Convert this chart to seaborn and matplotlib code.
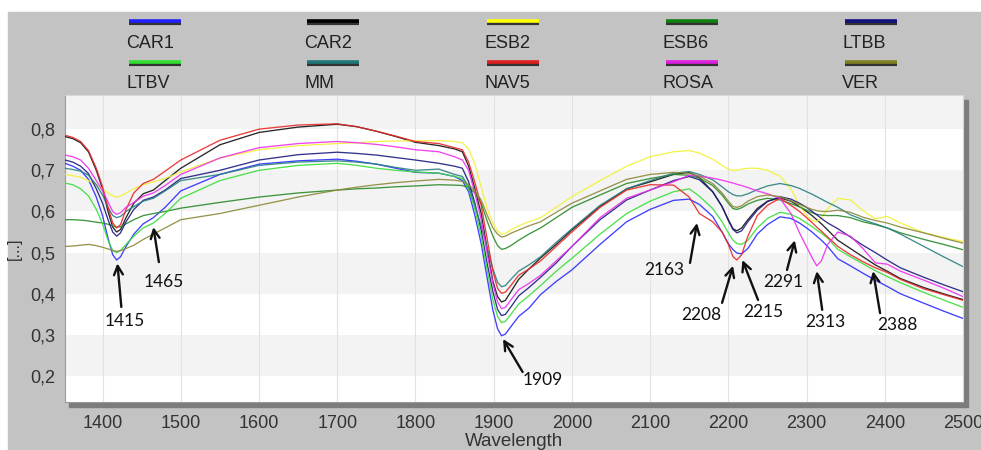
import matplotlib
matplotlib.use("Agg")
import matplotlib.pyplot as plt
from matplotlib.lines import Line2D
from matplotlib.patches import Rectangle
from matplotlib.ticker import FuncFormatter, MultipleLocator
from matplotlib import font_manager
import seaborn as sns
import pandas as pd

# ---------------- data ----------------
wavelength = [1352, 1362, 1372, 1382, 1392, 1400, 1407, 1413, 1418, 1423, 1430, 1440, 1452, 1465, 1480, 1500,
              1550, 1600, 1650, 1700, 1725, 1750, 1775, 1800, 1830, 1850,
              1860, 1868, 1876, 1884, 1892, 1899, 1905, 1910, 1915, 1922, 1932, 1945, 1960, 1980, 2000,
              2036, 2070, 2100, 2130,
              2150, 2163, 2180, 2192, 2200, 2206, 2211, 2217, 2225, 2237, 2250, 2266, 2280, 2291,
              2300, 2307, 2313, 2319, 2327, 2340, 2356, 2372, 2388, 2403, 2420, 2450, 2475, 2500]

CAR1 = [0.717, 0.71, 0.70, 0.678, 0.635, 0.59, 0.535, 0.495, 0.482, 0.49, 0.515, 0.545, 0.57, 0.585, 0.61, 0.65,
        0.69, 0.715, 0.723, 0.727, 0.722, 0.715, 0.705, 0.695, 0.693, 0.685,
        0.675, 0.648, 0.59, 0.522, 0.435, 0.36, 0.315, 0.298, 0.302, 0.32, 0.345, 0.365, 0.398, 0.43, 0.458,
        0.52, 0.575, 0.605, 0.627,
        0.63, 0.617, 0.588, 0.55, 0.522, 0.507, 0.499, 0.497, 0.51, 0.545, 0.568, 0.587, 0.583, 0.572,
        0.56, 0.55, 0.54, 0.53, 0.515, 0.485, 0.468, 0.45, 0.433, 0.418, 0.40, 0.377, 0.358, 0.34]
CAR2 = [0.782, 0.777, 0.767, 0.745, 0.70, 0.655, 0.60, 0.562, 0.55, 0.556, 0.585, 0.62, 0.643, 0.652, 0.675, 0.705,
        0.762, 0.792, 0.805, 0.812, 0.806, 0.795, 0.782, 0.768, 0.76, 0.752,
        0.745, 0.71, 0.655, 0.595, 0.505, 0.43, 0.393, 0.38, 0.384, 0.405, 0.435, 0.46, 0.487, 0.52, 0.555,
        0.612, 0.655, 0.672, 0.69,
        0.695, 0.682, 0.648, 0.612, 0.58, 0.558, 0.553, 0.56, 0.58, 0.607, 0.625, 0.633, 0.625, 0.612,
        0.60, 0.59, 0.58, 0.57, 0.555, 0.53, 0.51, 0.49, 0.47, 0.455, 0.437, 0.415, 0.40, 0.386]
ESB2 = [0.69, 0.687, 0.683, 0.675, 0.665, 0.655, 0.645, 0.638, 0.635, 0.637, 0.645, 0.655, 0.665, 0.672, 0.68, 0.696,
        0.73, 0.75, 0.76, 0.765, 0.767, 0.77, 0.771, 0.772, 0.772, 0.77,
        0.767, 0.752, 0.715, 0.66, 0.605, 0.572, 0.553, 0.545, 0.547, 0.555, 0.565, 0.575, 0.585, 0.61, 0.636,
        0.675, 0.71, 0.733, 0.745,
        0.748, 0.742, 0.727, 0.712, 0.703, 0.70, 0.70, 0.703, 0.705, 0.705, 0.70, 0.686, 0.655, 0.615,
        0.59, 0.578, 0.575, 0.585, 0.607, 0.632, 0.628, 0.602, 0.582, 0.588, 0.572, 0.548, 0.537, 0.527]
ESB6 = [0.58, 0.58, 0.579, 0.577, 0.574, 0.572, 0.569, 0.565, 0.562, 0.563, 0.57, 0.58, 0.59, 0.595, 0.60, 0.608,
        0.622, 0.635, 0.645, 0.652, 0.655, 0.657, 0.66, 0.662, 0.665, 0.664,
        0.663, 0.658, 0.645, 0.62, 0.575, 0.54, 0.517, 0.508, 0.51, 0.517, 0.53, 0.545, 0.56, 0.585, 0.61,
        0.64, 0.668, 0.68, 0.69,
        0.688, 0.681, 0.663, 0.64, 0.62, 0.607, 0.605, 0.609, 0.618, 0.627, 0.632, 0.628, 0.619, 0.611,
        0.603, 0.597, 0.593, 0.591, 0.59, 0.59, 0.585, 0.575, 0.568, 0.56, 0.548, 0.532, 0.52, 0.507]
LTBB = [0.725, 0.72, 0.71, 0.692, 0.655, 0.62, 0.58, 0.55, 0.54, 0.548, 0.575, 0.605, 0.627, 0.635, 0.652, 0.68,
        0.70, 0.725, 0.738, 0.744, 0.741, 0.737, 0.731, 0.725, 0.717, 0.71,
        0.705, 0.672, 0.62, 0.555, 0.47, 0.405, 0.362, 0.347, 0.35, 0.368, 0.395, 0.415, 0.44, 0.475, 0.515,
        0.58, 0.628, 0.652, 0.675,
        0.685, 0.677, 0.648, 0.612, 0.578, 0.556, 0.548, 0.553, 0.575, 0.603, 0.624, 0.636, 0.63, 0.62,
        0.61, 0.60, 0.592, 0.583, 0.572, 0.558, 0.538, 0.518, 0.50, 0.482, 0.463, 0.44, 0.422, 0.405]
LTBV = [0.669, 0.665, 0.655, 0.638, 0.605, 0.57, 0.53, 0.505, 0.50, 0.505, 0.52, 0.54, 0.56, 0.572, 0.595, 0.632,
        0.675, 0.70, 0.712, 0.717, 0.712, 0.705, 0.70, 0.696, 0.693, 0.685,
        0.68, 0.655, 0.605, 0.54, 0.455, 0.385, 0.345, 0.33, 0.333, 0.35, 0.375, 0.395, 0.42, 0.455, 0.486,
        0.545, 0.595, 0.625, 0.648,
        0.655, 0.637, 0.607, 0.575, 0.548, 0.53, 0.522, 0.52, 0.53, 0.56, 0.583, 0.598, 0.593, 0.583,
        0.572, 0.563, 0.555, 0.547, 0.535, 0.508, 0.49, 0.473, 0.456, 0.442, 0.427, 0.403, 0.385, 0.367]
MM = [0.705, 0.702, 0.698, 0.688, 0.665, 0.64, 0.61, 0.59, 0.585, 0.588, 0.60, 0.612, 0.625, 0.632, 0.65, 0.675,
      0.69, 0.712, 0.72, 0.723, 0.72, 0.715, 0.707, 0.70, 0.703, 0.69,
      0.685, 0.66, 0.615, 0.565, 0.51, 0.46, 0.428, 0.417, 0.42, 0.435, 0.455, 0.47, 0.49, 0.525, 0.558,
      0.615, 0.655, 0.675, 0.693,
      0.697, 0.69, 0.677, 0.66, 0.648, 0.641, 0.638, 0.638, 0.643, 0.653, 0.662, 0.668, 0.663, 0.656,
      0.648, 0.642, 0.636, 0.63, 0.622, 0.61, 0.592, 0.58, 0.57, 0.56, 0.545, 0.515, 0.49, 0.466]
NAV5 = [0.785, 0.78, 0.77, 0.748, 0.705, 0.66, 0.61, 0.572, 0.56, 0.568, 0.605, 0.645, 0.668, 0.678, 0.698, 0.725,
        0.773, 0.80, 0.81, 0.813, 0.806, 0.795, 0.783, 0.77, 0.765, 0.755,
        0.75, 0.72, 0.67, 0.615, 0.53, 0.455, 0.413, 0.401, 0.404, 0.42, 0.445, 0.46, 0.48, 0.515, 0.55,
        0.61, 0.652, 0.665, 0.664,
        0.635, 0.595, 0.575, 0.55, 0.52, 0.49, 0.482, 0.495, 0.54, 0.59, 0.615, 0.632, 0.615, 0.60,
        0.585, 0.573, 0.562, 0.552, 0.538, 0.515, 0.495, 0.478, 0.463, 0.452, 0.435, 0.412, 0.398, 0.384]
ROSA = [0.737, 0.733, 0.725, 0.705, 0.675, 0.65, 0.623, 0.60, 0.593, 0.597, 0.61, 0.622, 0.637, 0.645, 0.663, 0.69,
        0.73, 0.755, 0.765, 0.77, 0.767, 0.763, 0.757, 0.75, 0.745, 0.733,
        0.725, 0.70, 0.645, 0.58, 0.495, 0.425, 0.38, 0.364, 0.367, 0.385, 0.41, 0.425, 0.445, 0.48, 0.515,
        0.585, 0.632, 0.652, 0.672,
        0.688, 0.686, 0.681, 0.676, 0.672, 0.669, 0.666, 0.663, 0.658, 0.65, 0.643, 0.632, 0.595, 0.548,
        0.514, 0.488, 0.468, 0.48, 0.52, 0.55, 0.54, 0.51, 0.475, 0.472, 0.455, 0.433, 0.414, 0.393]
VER = [0.515, 0.516, 0.518, 0.52, 0.517, 0.513, 0.509, 0.505, 0.503, 0.505, 0.51, 0.518, 0.532, 0.545, 0.56, 0.58,
       0.595, 0.615, 0.635, 0.652, 0.659, 0.665, 0.67, 0.674, 0.678, 0.676,
       0.673, 0.665, 0.65, 0.628, 0.59, 0.56, 0.545, 0.538, 0.54, 0.547, 0.555, 0.565, 0.575, 0.598, 0.62,
       0.65, 0.678, 0.69, 0.695,
       0.693, 0.686, 0.668, 0.645, 0.625, 0.612, 0.61, 0.614, 0.625, 0.636, 0.64, 0.636, 0.626, 0.617,
       0.61, 0.605, 0.602, 0.60, 0.60, 0.603, 0.598, 0.586, 0.578, 0.572, 0.562, 0.548, 0.535, 0.523]

series_names = ["CAR1", "CAR2", "ESB2", "ESB6", "LTBB", "LTBV", "MM", "NAV5", "ROSA", "VER"]
series_values = [CAR1, CAR2, ESB2, ESB6, LTBB, LTBV, MM, NAV5, ROSA, VER]
line_colors = ["#2b2bff", "#111111", "#f2f23a", "#2a8a2a", "#1c1c80",
               "#3ade3a", "#2a8080", "#e82828", "#ee30ee", "#8c8a3a"]
swatch_colors = ["#2020ff", "#000000", "#ffff00", "#108010", "#101080",
                 "#30e030", "#207878", "#e02020", "#e020e0", "#808020"]

ann_labels = ["1415", "1465", "1909", "2163", "2208", "2215", "2291", "2313", "2388"]
ann_tip = [(1419, 0.474), (1465, 0.562), (1912, 0.290), (2160, 0.572), (2206, 0.468),
           (2218, 0.482), (2285, 0.530), (2313, 0.455), (2385, 0.455)]
ann_tail = [(1424, 0.368), (1472, 0.477), (1937, 0.210), (2151, 0.475), (2192, 0.378),
            (2238, 0.385), (2275, 0.458), (2320, 0.361), (2394, 0.353)]
ann_text = [(1428, 0.334), (1478, 0.429), (1963, 0.191), (2118, 0.458), (2166, 0.349),
            (2245, 0.356), (2270, 0.429), (2324, 0.332), (2416, 0.324)]

# ---------------- style ----------------
sns.set_style("white")
names = {f.name for f in font_manager.fontManager.ttflist}
axis_font = "Liberation Sans Narrow" if "Liberation Sans Narrow" in names else "Liberation Sans"
plt.rcParams["font.family"] = [axis_font, "DejaVu Sans"]

rows = []
for name, vals in zip(series_names, series_values):
    for w, v in zip(wavelength, vals):
        rows.append({"Wavelength": w, "value": v, "sample": name})
df = pd.DataFrame(rows)

W, H = 981, 450
fig = plt.figure(figsize=(W / 100, H / 100), dpi=100)
fig.patch.set_facecolor("white")
fig.patches.append(Rectangle((8 / W, 0), 1, 1 - 12 / H, transform=fig.transFigure,
                             color="#c3c3c3", zorder=-10))
# plot shadow
fig.patches.append(Rectangle((69 / W, 1 - 407 / H), (968 - 69) / W, (407 - 100) / H,
                             transform=fig.transFigure, color="#7c7c7c", zorder=-5))

ax = fig.add_axes([65 / W, 1 - 402 / H, (963 - 65) / W, (402 - 95) / H])
ax.set_facecolor("white")

for lo in [0.2, 0.4, 0.6, 0.8]:
    ax.axhspan(lo, lo + 0.1, color="#f3f3f3", zorder=0, lw=0)

sns.lineplot(data=df, x="Wavelength", y="value", hue="sample",
             palette=dict(zip(series_names, line_colors)), hue_order=series_names,
             estimator=None, legend=False, lw=0.95, alpha=0.9, ax=ax, zorder=3)

ax.set_xlim(1352, 2500)
ax.set_ylim(0.137, 0.883)
ax.set_xticks(range(1400, 2501, 100))
ax.xaxis.set_minor_locator(MultipleLocator(20))
ax.set_yticks([0.2, 0.3, 0.4, 0.5, 0.6, 0.7, 0.8])
ax.yaxis.set_minor_locator(MultipleLocator(0.05))
ax.yaxis.set_major_formatter(FuncFormatter(lambda v, p: f"{v:.1f}".replace(".", ",")))
ax.grid(axis="x", which="major", color="#e2e2e2", lw=0.8, zorder=1)
ax.set_axisbelow(True)
ax.tick_params(axis="both", which="both", direction="in", length=6, width=0.9,
               color="#8a8a8a", labelcolor="#333333", labelsize=13)
ax.tick_params(axis="x", which="major", pad=9)
ax.tick_params(axis="y", which="major", pad=7)
for s in ["top", "right"]:
    ax.spines[s].set_color("#d8d8d8")
for s in ["left", "bottom"]:
    ax.spines[s].set_color("#9a9a9a")

ax.set_xlabel("Wavelength", fontsize=13.5, color="#333333", va="center")
ax.xaxis.set_label_coords(0.5, -0.128)
ax.set_ylabel("[...]", fontsize=12, color="#333333", va="center")
ax.yaxis.set_label_coords(-0.056, 0.5)

for lab, tip, tail, txt in zip(ann_labels, ann_tip, ann_tail, ann_text):
    ax.annotate("", xy=tip, xytext=tail,
                arrowprops=dict(arrowstyle="->", color="#111111", lw=1.7,
                                mutation_scale=16, shrinkA=0, shrinkB=0), zorder=5)
    ax.text(txt[0], txt[1], lab, ha="center", va="center", fontsize=12.5,
            family=["Lato", "DejaVu Sans"], color="#111111", zorder=5)

# legend: swatch above label, 5 columns x 2 rows
col_x = [155, 333, 513, 692, 871]
sw_y = [21, 62]
lab_y = [44, 83]
half = 26
for i, (name, c) in enumerate(zip(series_names, swatch_colors)):
    cx = col_x[i % 5]
    r = i // 5
    y = 1 - sw_y[r] / H
    yd = 1 - (sw_y[r] + 1.6) / H
    fig.add_artist(Line2D([(cx - half) / W, (cx + half) / W], [yd, yd],
                          transform=fig.transFigure, color="#333333", lw=3.0,
                          solid_capstyle="butt"))
    fig.add_artist(Line2D([(cx - half) / W, (cx + half) / W], [y, y],
                          transform=fig.transFigure, color=c, lw=2.6,
                          solid_capstyle="butt"))
    fig.text((cx - half - 3) / W, 1 - lab_y[r] / H, name, ha="left", va="center",
             fontsize=13, color="#222222")

fig.savefig("out.png", dpi=100)
